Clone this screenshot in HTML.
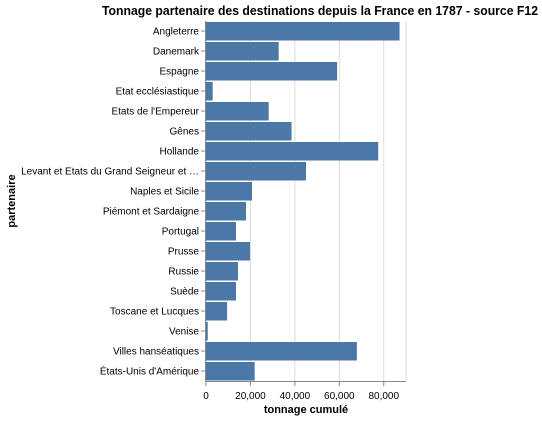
<!DOCTYPE html>
<html><head><meta charset="utf-8"><style>
body{margin:0;background:#fff;font-family:"Liberation Sans",Arial,sans-serif}
svg text{font-family:"Liberation Sans",Arial,sans-serif}
</style></head><body>
<svg id="chart" width="542" height="419" xmlns="http://www.w3.org/2000/svg">
<text x="320" y="15" text-anchor="middle" font-size="13" font-weight="bold" fill="#000" textLength="436" lengthAdjust="spacingAndGlyphs">Tonnage partenaire des destinations depuis la France en 1787 - source F12</text>
<g id="grid"></g>
<g id="bars"></g>
<g id="yaxis"></g>
<g id="xaxis"></g>
<text transform="translate(15,201) rotate(-90)" text-anchor="middle" font-size="11" font-weight="bold">partenaire</text>
<text x="306" y="413" text-anchor="middle" font-size="11" font-weight="bold">tonnage cumulé</text>
</svg>
<script>
const categories=["Angleterre","Danemark","Espagne","Etat ecclésiastique","Etats de l'Empereur","Gênes","Hollande","Levant et Etats du Grand Seigneur et …","Naples et Sicile","Piémont et Sardaigne","Portugal","Prusse","Russie","Suède","Toscane et Lucques","Venise","Villes hanséatiques","États-Unis d'Amérique"];
const values=[87100,32700,59000,3000,28200,38500,77500,45000,20700,18000,13500,19800,14400,13500,9500,800,67900,21900];
const ticks=[0,20000,40000,60000,80000];
const tickLabels=["0","20,000","40,000","60,000","80,000"];
const NS="http://www.w3.org/2000/svg";
const x0=206,W=200,xMax=90000,y0=21,band=20;
const x=v=>x0+v/xMax*W;
const y=i=>y0+i*band;
function mk(t,a,p){const e=document.createElementNS(NS,t);for(const k in a)e.setAttribute(k,a[k]);p.appendChild(e);return e;}
const grid=document.getElementById('grid'),bars=document.getElementById('bars'),ya=document.getElementById('yaxis'),xa=document.getElementById('xaxis');
const H=categories.length*band;
ticks.forEach((t,i)=>{
 const g=mk('line',{x1:x(t),x2:x(t),y1:y0,y2:y0+H,stroke:'#ddd'},grid);
 
 
 const tk=mk('line',{x1:x(t),x2:x(t),y1:y0+H,y2:y0+H+5,stroke:'#888'},xa);
 
 
 const tl=mk('text',{x:x(t),y:y0+H+18,'text-anchor':'middle','font-size':10,fill:'#000'},xa);
 tl.textContent=tickLabels[i];
 
 
});
mk('line',{x1:x0+W,x2:x0+W,y1:y0,y2:y0+H,stroke:'#ddd'},grid);
categories.forEach((c,i)=>{
 const r=mk('rect',{x:x0,y:y(i)+1,width:x(values[i])-x0,height:band-1.5,fill:'#4c78a8'},bars);
 
 
 const tk=mk('line',{x1:x0-5,x2:x0,y1:y(i)+band/2,y2:y(i)+band/2,stroke:'#888'},ya);
 
 
 const tl=mk('text',{x:x0-7,y:y(i)+band/2+3.5,'text-anchor':'end','font-size':10,fill:'#000'},ya);
 tl.textContent=c;
 
 
});
const xl=mk('line',{x1:x0,x2:x0+W,y1:y0+H+0.5,y2:y0+H+0.5,stroke:'#888'},xa);


const yl=mk('line',{x1:x0-0.5,x2:x0-0.5,y1:y0,y2:y0+H,stroke:'#888'},ya);


</script>
</body></html>
